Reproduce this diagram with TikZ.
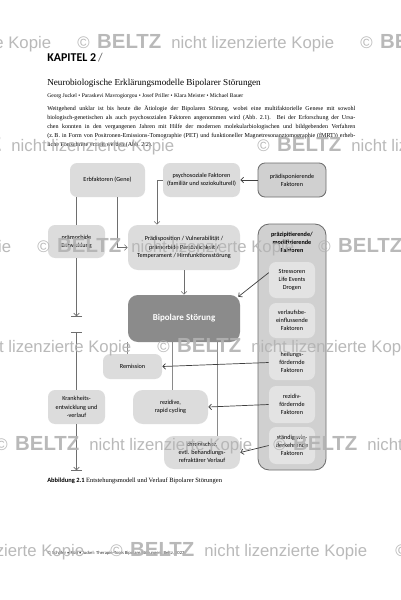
\documentclass[tikz,border=0pt]{standalone}
\usepackage{fontspec}
\setmainfont{Liberation Serif}
\newfontfamily\boxfont{Carlito}
\newfontfamily\wmfont{Liberation Sans}
\usepackage{xcolor}
\definecolor{boxfill}{HTML}{DCDCDC}
\definecolor{innerfill}{HTML}{E3E3E3}
\definecolor{colfill}{HTML}{D0D0D0}
\definecolor{darkfill}{HTML}{8B8B8B}
\definecolor{edgegray}{HTML}{6E6E6E}
\definecolor{linegray}{HTML}{8A8A8A}
\definecolor{wmgray}{HTML}{B2B2B2}
\usepackage{tikz}
\usetikzlibrary{positioning,arrows.meta,calc}

\newcommand\fs[2]{\fontsize{#1}{#2}\selectfont}
\newcommand\wmunit{\wmfont\fs{11.9}{12}\textcopyright\hspace{0.19cm}{\bfseries\fs{14.5}{14}BELTZ}\hspace{0.25cm}nicht lizenzierte Kopie}

\tikzset{
  boxsize/.style 2 args={minimum width=#1*0.025cm, minimum height=#2*0.025cm},
  lbox/.style={fill=boxfill, rounded corners=5pt, align=center, inner sep=0pt,
    font=\boxfont\fs{4.4}{5.8}},
  dbox/.style={lbox, fill=colfill, draw=edgegray, line width=0.6pt},
  ibox/.style={lbox, fill=innerfill},
  bigbox/.style={lbox, fill=darkfill, text=white, rounded corners=7pt,
    font=\boxfont\bfseries\fs{6.4}{7}},
  tline/.style={draw=edgegray, line width=0.45pt},
  pline/.style={draw=linegray, line width=0.45pt},
  tarrow/.style={tline, -{Straight Barb[length=2pt,width=4pt]}},
  darrow/.style={draw=black!75, line width=0.5pt, -{Straight Barb[length=2pt,width=4pt]}},
  stopbar/.style={tline, -{Straight Barb[length=2pt,width=4pt] Bar[width=8pt]}},
  wmark/.style={anchor=west, inner sep=0pt, text=wmgray, opacity=0.9},
}

\begin{document}
\begin{tikzpicture}[x=0.025cm, y=-0.025cm]
  \useasboundingbox (0,0) rectangle (401,600);
  \clip (0,0) rectangle (401,600);
  \fill[white] (0,0) rectangle (401,600);

  % page head
  \node[anchor=west, inner sep=0pt] (chapter) at (47,58)
    {\boxfont\fs{8.5}{9}\textbf{KAPITEL 2}\,{\color{black!60}\mdseries/}};
  \node[anchor=west, inner sep=0pt] (title) at (47,83)
    {\fs{6.5}{7}Neurobiologische Erklärungsmodelle Bipolarer Störungen};
  \node[anchor=west, inner sep=0pt] (authors) at (47,96)
    {\fs{4.0}{4.5}Georg Juckel \textbullet{} Paraskevi Mavrogiorgou \textbullet{} Josef Priller \textbullet{} Klara Meister \textbullet{} Michael Bauer};
  \begin{scope}[every node/.style={anchor=west, inner sep=0pt, font=\fs{4.3}{5}}]
    \node (par1) at (47,109) {\makebox[7.7cm][s]{Weitgehend unklar ist bis heute die Ätiologie der Bipolaren Störung, wobei eine multifaktorielle Genese mit sowohl}};
    \node (par2) at (47,118) {\makebox[7.7cm][s]{biologisch-genetischen als auch psychosozialen Faktoren angenommen wird (Abb.~2.1). Bei der Erforschung der Ursa-}};
    \node (par3) at (47,127) {\makebox[7.7cm][s]{chen konnten in den vergangenen Jahren mit Hilfe der modernen molekularbiologischen und bildgebenden Verfahren}};
    \node (par4) at (47,136) {\makebox[7.7cm][s]{(z.\,B. in Form von Positronen-Emissions-Tomographie (PET) und funktioneller Magnetresonanztomographie (fMRT)) erheb-}};
    \node (par5) at (47,145) {liche Fortschritte erzielt werden (Abb.~2.2).};
  \end{scope}

  % boxes
  \node[lbox, boxsize={75}{34}] (erb) at (107.5,180) {Erbfaktoren (Gene)};
  \node[lbox, boxsize={77}{34}] (psy) at (201.5,180) {psychosoziale Faktoren\\(familiär und soziokulturell)};
  \node[dbox, boxsize={68}{34}] (praedisp) at (292,180) {prädisponierende\\Faktoren};
  \node[lbox, boxsize={57}{33}] (praem) at (76.5,241.5) {prämorbide\\Entwicklung};
  \node[lbox, boxsize={112}{45}, rounded corners=7pt] (vuln) at (184,247.5)
    {Prädisposition / Vulnerabilität /\\prämorbide Persönlichkeit /\\Temperament / Hirnfunktionsstörung};
  \node[bigbox, boxsize={112}{47}] (bip) at (184,318.5) {Bipolare Störung};
  \node[lbox, boxsize={59}{25}] (remis) at (132.5,366.5) {Remission};
  \node[lbox, boxsize={57}{34}] (krank) at (76.5,407) {Krankheits-\\entwicklung und\\-verlauf};
  \node[lbox, boxsize={75}{34}, rounded corners=7pt] (rezid) at (170.5,407) {rezidive,\\rapid cycling};
  \node[lbox, boxsize={76}{33}, rounded corners=7pt] (chron) at (202,452.5) {chronischer,\\evtl. behandlungs-\\refraktärer Verlauf};

  % right column
  \node[dbox, boxsize={68}{246}, rounded corners=8pt] (praez) at (292,347) {};
  \node[font=\boxfont\bfseries\fs{4.4}{5.8}, align=center, inner sep=0pt] (praeztitle) at (292,242)
    {präzipitierende/\\modifizierende\\Faktoren};
  \node[ibox, boxsize={46}{36}] (stress) at (292,280) {Stressoren\\Life Events\\Drogen};
  \node[ibox, boxsize={46}{35}] (verl) at (292,320.5) {verlaufsbe-\\einflussende\\Faktoren};
  \node[ibox, boxsize={46}{35}] (heil) at (292,362.5) {heilungs-\\fördernde\\Faktoren};
  \node[ibox, boxsize={46}{37}] (rezf) at (292,404.5) {rezidiv-\\fördernde\\Faktoren};
  \node[ibox, boxsize={46}{37}] (staend) at (292,445.5) {ständig wie-\\derkehrende\\Faktoren};

  % time line on the left
  \coordinate (onset) at (76.5,317);
  \coordinate (relapse) at (76.5,332);
  \coordinate (finish) at (76.5,471);
  \draw[tline] (praem.north |- erb.south) -- (praem.north);
  \draw[stopbar] (praem.south) -- (onset);
  \draw[tline, {Bar[width=8pt]}-] (relapse) -- (krank.north);
  \draw[stopbar] (krank.south) -- (finish);

  % connectors
  \draw[tarrow] ($(erb.south west)!.63!(erb.south east)$) |- (vuln.west);
  \draw[tarrow] (psy.west) -| ($(vuln.north west)!.26!(vuln.north east)$);
  \draw[darrow] (praedisp.west) -- (psy.east);
  \draw[tarrow] (vuln.south) -- (bip.north);
  \draw[pline] (bip.south west) -- (bip.south west |- remis.north);
  \draw[pline] ($(bip.south west)!.4!(bip.south east)$) coordinate (b2) -- (b2 |- rezid.north);
  \draw[pline] ($(bip.south west)!.8!(bip.south east)$) coordinate (b3) -- (b3 |- chron.north);
  \draw[darrow] ($(stress.north west)!.3!(stress.south west)$) -- ($(bip.north east)+(-2,2)$);
  \draw[darrow] (heil.west) -- (remis.east);
  \draw[darrow] (rezf.west) -- (rezid.east);
  \draw[darrow] (staend.west) -- (chron.east);

  % caption and foot
  \node[anchor=west, inner sep=0pt] (caption) at (47,481)
    {\fs{4.6}{5}{\boxfont\bfseries Abbildung 2.1}\ Entstehungsmodell und Verlauf Bipolarer Störungen};
  \node[anchor=west, inner sep=0pt, text=black!80] (foot) at (47,553)
    {\boxfont\fs{3.3}{4}© Schäfer \textbullet{} Rüd \textbullet{} Juckel: Therapie-Tools Bipolare Störungen. Beltz, 2023};

  % watermark rows
  \foreach \y/\xs in {43/{-206,77,360}, 146/{-83,257}, 247/{-246,37,318},
                      347/{-126,157}, 445/{-5,273}, 551/{-173,110,395}} {
    \foreach \x in \xs {
      \node[wmark] (wm-\y-\x) at (\x,\y) {\wmunit};
    }
  }
\end{tikzpicture}
\end{document}
